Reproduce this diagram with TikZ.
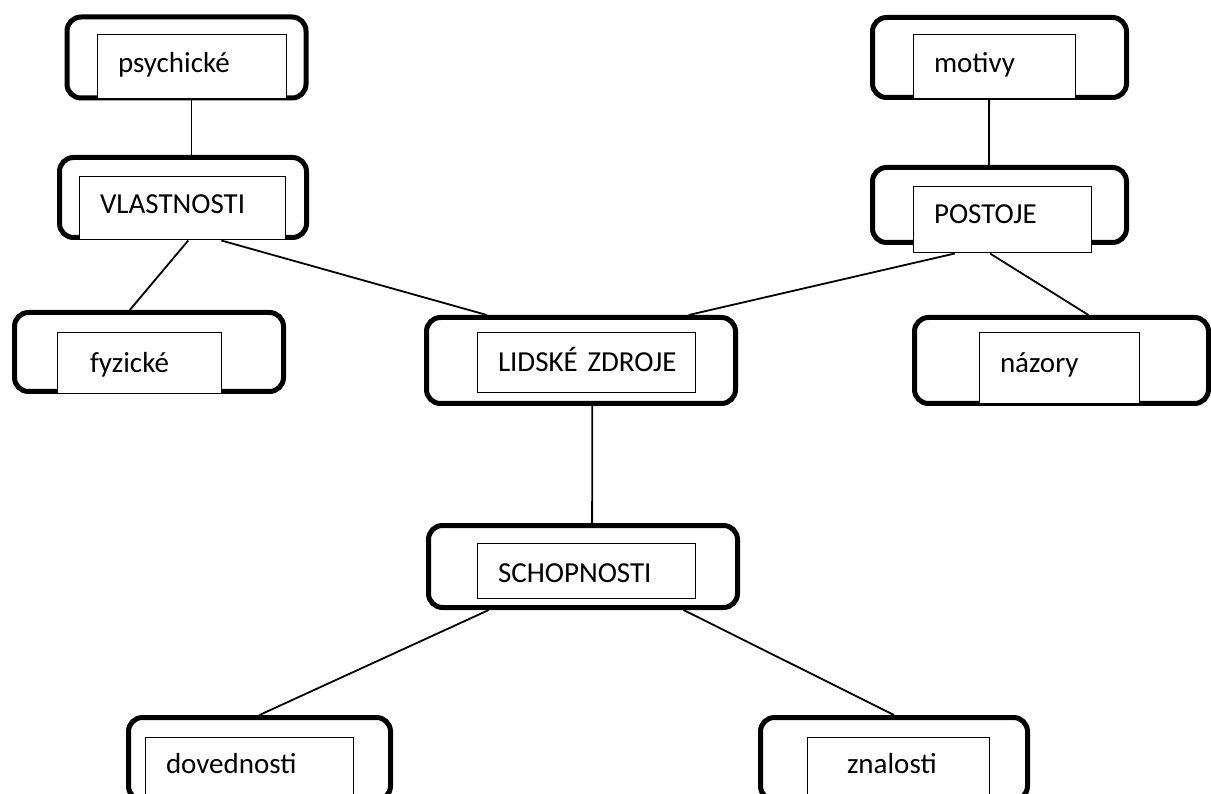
\documentclass[tikz,border=0pt]{standalone}
\usepackage{fontspec}
\setmainfont{Carlito}
\usetikzlibrary{calc}

\begin{document}
\begin{tikzpicture}[x=1pt,y=-1pt,
    box/.style={draw,line width=5pt,rounded corners=14pt,inner sep=0pt},
    inbox/.style={draw,fill=white,line width=1pt,inner xsep=0pt,inner ysep=0pt,
      text width=#1,align=left,text height=20pt,text depth=8pt,
      font=\fontsize{29}{35}\selectfont,execute at begin node=\hspace*{21pt}},
    link/.style={line width=1.8pt}]
            \clip (0,0) rectangle (1211,794);

            \node[box,minimum width=239pt,minimum height=81pt] (psychicke) at (186.5,57.5) {};
            \node[inbox=189pt,minimum height=64pt] (psychicke-in) at (191.5,67) {psychické};
            \node[box,minimum width=247pt,minimum height=80pt] (vlastnosti) at (183,197.5) {};
            \node[inbox=206pt,minimum height=63pt,text height=19pt] (vlastnosti-in) at (182,208.5) {VLASTNOSTI};
            \node[box,minimum width=269pt,minimum height=79pt] (fyzicke) at (149,352) {};
            \node[inbox=164pt,minimum height=61pt,text height=27pt] (fyzicke-in) at (139,363.5) {\hspace*{12pt}fyzické};

            \node[box,minimum width=309pt,minimum height=86pt] (lidske) at (581,360.5) {};
            \node[inbox=218pt,minimum height=60pt,text height=26pt] (lidske-in) at (586,363) {LIDSKÉ ZDROJE};
            \node[box,minimum width=309pt,minimum height=82pt] (schopnosti) at (583,566.5) {};
            \node[inbox=218pt,minimum height=55pt,text height=31pt] (schopnosti-in) at (586,570.5) {SCHOPNOSTI};

            \node[box,minimum width=254pt,minimum height=80pt] (motivy) at (999.5,57.5) {};
            \node[inbox=162pt,minimum height=64pt] (motivy-in) at (994,67) {motivy};
            \node[box,minimum width=254pt,minimum height=75pt] (postoje) at (999.5,205) {};
            \node[inbox=178pt,minimum height=66pt,text height=16pt] (postoje-in) at (1002,220) {POSTOJE};
            \node[box,minimum width=294pt,minimum height=86pt] (nazory) at (1061.5,360.5) {};
            \node[inbox=160pt,minimum height=71pt,text height=17pt] (nazory-in) at (1059,368.5) {názory};

            \node[box,minimum width=262pt,minimum height=82.5pt] (dovednosti) at (259.5,758.75) {};
            \node[inbox=208pt,minimum height=64pt,text height=16pt] (dovednosti-in) at (249,769) {dovednosti};
            \node[box,minimum width=267pt,minimum height=82.5pt] (znalosti) at (894,758.75) {};
            \node[inbox=182pt,minimum height=64pt,text height=16pt] (znalosti-in) at (898,769) {\hspace*{19pt}znalosti};

            \draw[link] (psychicke-in.south) -- (psychicke-in.south |- vlastnosti.north);
            \draw[link] ($(vlastnosti-in.south west)!.53!(vlastnosti-in.south east)$) -- ($(fyzicke.north west)!.43!(fyzicke.north east)$);
            \draw[link] ($(vlastnosti-in.south west)!.69!(vlastnosti-in.south east)$) -- ($(lidske.north west)!.2!(lidske.north east)$);
            \draw[link] ($(lidske.north west)!.843!(lidske.north east)$) -- ($(postoje-in.south west)!.236!(postoje-in.south east)$);
            \draw[link] ($(motivy-in.south west)!.47!(motivy-in.south east)$) -- ($(postoje.north west)!.459!(postoje.north east)$);
            \draw[link] ($(postoje-in.south west)!.433!(postoje-in.south east)$) -- ($(nazory.north west)!.59!(nazory.north east)$);
            \draw[link] ($(lidske.south west)!.536!(lidske.south east)$) -- ($(schopnosti.north west)!.529!(schopnosti.north east)$);
            \draw[link] ($(schopnosti.south west)!.2!(schopnosti.south east)$) -- (dovednosti.north);
            \draw[link] ($(schopnosti.south west)!.82!(schopnosti.south east)$) -- (znalosti.north);
        \end{tikzpicture}
\end{document}
